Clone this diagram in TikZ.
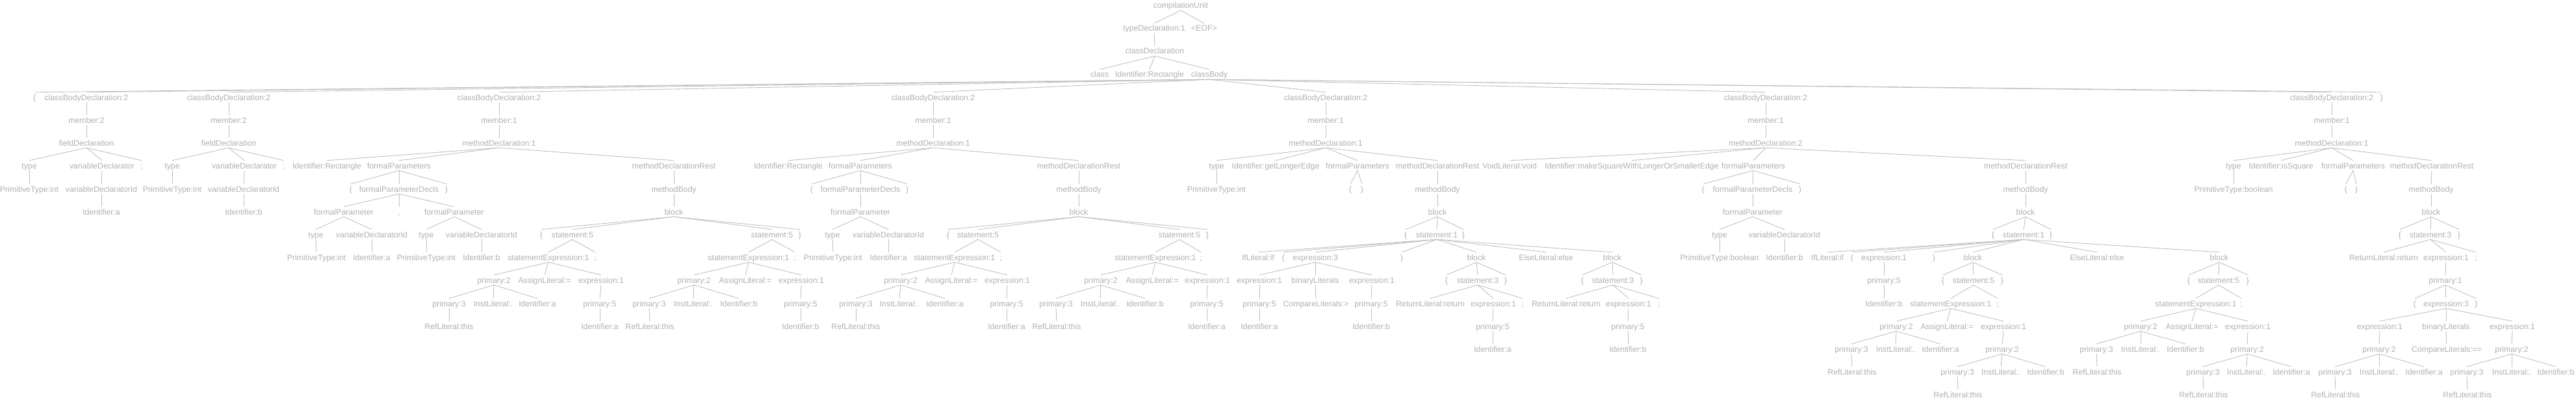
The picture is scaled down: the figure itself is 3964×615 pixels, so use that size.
\documentclass[tikz,border=0pt]{standalone}
\usepackage{fontspec}
\setmainfont{Liberation Sans}
\usepackage{tikz}
\usetikzlibrary{positioning}
\definecolor{tokgray}{RGB}{176,176,176}
\definecolor{linegray}{RGB}{192,192,192}
\newcommand{\branches}[2]
{
	\foreach \kid in {#2} {\draw[branchline] (#1.south) -- ([yshift=3pt]\kid.north);}
}

\begin{document}
\begin{tikzpicture}[x=1pt, y=-1pt,
			tok/.style={font=\fontsize{12.3}{14}\selectfont,
				text=tokgray,
				inner xsep=0.5pt, inner ysep=0pt,
				text height=9pt, text depth=3pt},
			branchline/.style={draw=linegray, line width=0.9pt}]
			\useasboundingbox (0,0) rectangle (3964,615);

			\node[tok] at (1817,10) (cu){compilationUnit};
			\node[tok] at (1776,45) (td){typeDeclaration:1};
			\node[tok] at (1853,45) (eof){<EOF>};
			\node[tok] at (1777,80) (cd){classDeclaration};
			\node[tok] at (1692,116) (kw){class};
			\node[tok] at (1769,116) (cname){Identifier:Rectangle};
			\node[tok] at (1861,116) (cb){classBody};

			\node[tok] at (53,151) (lbr){\{};
			\node[tok] at (133,151) (cbdA){classBodyDeclaration:2};
			\node[tok] at (352,151) (cbdB){classBodyDeclaration:2};
			\node[tok] at (768,151) (cbdC){classBodyDeclaration:2};
			\node[tok] at (1436,151) (cbdD){classBodyDeclaration:2};
			\node[tok] at (2040,151) (cbdE){classBodyDeclaration:2};
			\node[tok] at (2717,151) (cbdF){classBodyDeclaration:2};
			\node[tok] at (3588,151) (cbdG){classBodyDeclaration:2};
			\node[tok] at (3665,151) (rbr){\}};

			% int a;
			\node[tok] at (133,186) (memA){member:2};
			\node[tok] at (133,221) (fdA){fieldDeclaration};
			\node[tok] at (45,256) (tyA){type};
			\node[tok] at (157,256) (vdA){variableDeclarator};
			\node[tok] at (218,256) (scA){;};
			\node[tok] at (45,292) (ptA){PrimitiveType:int};
			\node[tok] at (156,292) (vidA){variableDeclaratorId};
			\node[tok] at (156,327) (idA){Identifier:a};

			% int b;
			\node[tok] at (352,186) (memB){member:2};
			\node[tok] at (352,221) (fdB){fieldDeclaration};
			\node[tok] at (265,256) (tyB){type};
			\node[tok] at (376,256) (vdB){variableDeclarator};
			\node[tok] at (437,256) (scB){;};
			\node[tok] at (265,292) (ptB){PrimitiveType:int};
			\node[tok] at (375,292) (vidB){variableDeclaratorId};
			\node[tok] at (375,327) (idB){Identifier:b};

			% Rectangle(int a, int b)
			\node[tok] at (768,186) (memC){member:1};
			\node[tok] at (768,221) (mdC){methodDeclaration:1};
			\node[tok] at (503,256) (idC){Identifier:Rectangle};
			\node[tok] at (614,256) (fpC){formalParameters};
			\node[tok] at (1037,256) (mrC){methodDeclarationRest};
			\node[tok] at (540,292) (lpC){(};
			\node[tok] at (614,292) (fpdC){formalParameterDecls};
			\node[tok] at (687,292) (rpC){)};
			\node[tok] at (529,327) (fparC1){formalParameter};
			\node[tok] at (614,327) (cmC){,};
			\node[tok] at (699,327) (fparC2){formalParameter};
			\node[tok] at (486,362) (tyC1){type};
			\node[tok] at (572,362) (vidC1){variableDeclaratorId};
			\node[tok] at (656,362) (tyC2){type};
			\node[tok] at (741,362) (vidC2){variableDeclaratorId};
			\node[tok] at (487,397) (ptC1){PrimitiveType:int};
			\node[tok] at (572,397) (idC1){Identifier:a};
			\node[tok] at (656,397) (ptC2){PrimitiveType:int};
			\node[tok] at (741,397) (idC2){Identifier:b};
			\node[tok] at (1037,292) (mbC){methodBody};
			\node[tok] at (1037,327) (blkC){block};
			\node[tok] at (833,362) (lbC){\{};
			\node[tok] at (881,362) (stC1){statement:5};
			\node[tok] at (1188,362) (stC2){statement:5};
			\node[tok] at (1231,362) (rbC){\}};
			\node[tok] at (844,397) (seC1){statementExpression:1};
			\node[tok] at (916,397) (scC1){;};
			\node[tok] at (760,432) (p2C1){primary:2};
			\node[tok] at (838,432) (asC1){AssignLiteral:=};
			\node[tok] at (925,432) (exC1){expression:1};
			\node[tok] at (691,468) (p3C1){primary:3};
			\node[tok] at (759,468) (ilC1){InstLiteral:.};
			\node[tok] at (827,468) (iaC1){Identifier:a};
			\node[tok] at (923,468) (p5C1){primary:5};
			\node[tok] at (691,503) (rlC1){RefLiteral:this};
			\node[tok] at (923,503) (ivC1){Identifier:a};
			\node[tok] at (1152,397) (seC2){statementExpression:1};
			\node[tok] at (1223,397) (scC2){;};
			\node[tok] at (1068,432) (p2C2){primary:2};
			\node[tok] at (1147,432) (asC2){AssignLiteral:=};
			\node[tok] at (1233,432) (exC2){expression:1};
			\node[tok] at (999,468) (p3C2){primary:3};
			\node[tok] at (1067,468) (ilC2){InstLiteral:.};
			\node[tok] at (1137,468) (ibC2){Identifier:b};
			\node[tok] at (1232,468) (p5C2){primary:5};
			\node[tok] at (1000,503) (rlC2){RefLiteral:this};
			\node[tok] at (1232,503) (ivC2){Identifier:b};

			% Rectangle(int a)
			\node[tok] at (1436,186) (memD){member:1};
			\node[tok] at (1436,221) (mdD){methodDeclaration:1};
			\node[tok] at (1213,256) (idD){Identifier:Rectangle};
			\node[tok] at (1324,256) (fpD){formalParameters};
			\node[tok] at (1660,256) (mrD){methodDeclarationRest};
			\node[tok] at (1249,292) (lpD){(};
			\node[tok] at (1324,292) (fpdD){formalParameterDecls};
			\node[tok] at (1396,292) (rpD){)};
			\node[tok] at (1324,327) (fparD){formalParameter};
			\node[tok] at (1281,362) (tyD){type};
			\node[tok] at (1367,362) (vidD){variableDeclaratorId};
			\node[tok] at (1282,397) (ptD){PrimitiveType:int};
			\node[tok] at (1367,397) (idDa){Identifier:a};
			\node[tok] at (1660,292) (mbD){methodBody};
			\node[tok] at (1660,327) (blkD){block};
			\node[tok] at (1459,362) (lbD){\{};
			\node[tok] at (1505,362) (stD1){statement:5};
			\node[tok] at (1815,362) (stD2){statement:5};
			\node[tok] at (1858,362) (rbD){\}};
			\node[tok] at (1469,397) (seD1){statementExpression:1};
			\node[tok] at (1540,397) (scD1){;};
			\node[tok] at (1386,432) (p2D1){primary:2};
			\node[tok] at (1464,432) (asD1){AssignLiteral:=};
			\node[tok] at (1550,432) (exD1){expression:1};
			\node[tok] at (1317,468) (p3D1){primary:3};
			\node[tok] at (1384,468) (ilD1){InstLiteral:.};
			\node[tok] at (1454,468) (iaD1){Identifier:a};
			\node[tok] at (1549,468) (p5D1){primary:5};
			\node[tok] at (1317,503) (rlD1){RefLiteral:this};
			\node[tok] at (1549,503) (ivD1){Identifier:a};
			\node[tok] at (1778,397) (seD2){statementExpression:1};
			\node[tok] at (1848,397) (scD2){;};
			\node[tok] at (1694,432) (p2D2){primary:2};
			\node[tok] at (1773,432) (asD2){AssignLiteral:=};
			\node[tok] at (1858,432) (exD2){expression:1};
			\node[tok] at (1625,468) (p3D2){primary:3};
			\node[tok] at (1693,468) (ilD2){InstLiteral:.};
			\node[tok] at (1762,468) (ibD2){Identifier:b};
			\node[tok] at (1857,468) (p5D2){primary:5};
			\node[tok] at (1626,503) (rlD2){RefLiteral:this};
			\node[tok] at (1857,503) (ivD2){Identifier:a};

			% getLongerEdge()
			\node[tok] at (2040,186) (memE){member:1};
			\node[tok] at (2040,221) (mdE){methodDeclaration:1};
			\node[tok] at (1872,256) (tyE){type};
			\node[tok] at (1963,256) (idE){Identifier:getLongerEdge};
			\node[tok] at (2089,256) (fpE){formalParameters};
			\node[tok] at (2212,256) (mrE){methodDeclarationRest};
			\node[tok] at (1872,292) (ptE){PrimitiveType:int};
			\node[tok] at (2078,292) (lpE){(};
			\node[tok] at (2096,292) (rpE){)};
			\node[tok] at (2212,292) (mbE){methodBody};
			\node[tok] at (2212,327) (blkE){block};
			\node[tok] at (2163,362) (lbE){\{};
			\node[tok] at (2211,362) (stE){statement:1};
			\node[tok] at (2252,362) (rbE){\}};
			\node[tok] at (1936,397) (ifE){IfLiteral:if};
			\node[tok] at (1975,397) (lpE2){(};
			\node[tok] at (2024,397) (ex3E){expression:3};
			\node[tok] at (2157,397) (rpE2){)};
			\node[tok] at (2272,397) (bkE1){block};
			\node[tok] at (2379,397) (elE){ElseLiteral:else};
			\node[tok] at (2481,397) (bkE2){block};
			\node[tok] at (1938,432) (ex1E1){expression:1};
			\node[tok] at (2024,432) (blE){binaryLiterals};
			\node[tok] at (2111,432) (ex1E2){expression:1};
			\node[tok] at (1938,468) (p5E1){primary:5};
			\node[tok] at (2025,468) (clE){CompareLiterals:>};
			\node[tok] at (2110,468) (p5E2){primary:5};
			\node[tok] at (1938,503) (iaE){Identifier:a};
			\node[tok] at (2110,503) (ibE){Identifier:b};
			\node[tok] at (2226,432) (lbE1){\{};
			\node[tok] at (2274,432) (s3E1){statement:3};
			\node[tok] at (2317,432) (rbE1){\}};
			\node[tok] at (2201,468) (reE1){ReturnLiteral:return};
			\node[tok] at (2298,468) (exE1){expression:1};
			\node[tok] at (2343,468) (scE1){;};
			\node[tok] at (2297,503) (p5E3){primary:5};
			\node[tok] at (2297,538) (iaE3){Identifier:a};
			\node[tok] at (2435,432) (lbE2){\{};
			\node[tok] at (2482,432) (s3E2){statement:3};
			\node[tok] at (2526,432) (rbE2){\}};
			\node[tok] at (2410,468) (reE2){ReturnLiteral:return};
			\node[tok] at (2506,468) (exE2){expression:1};
			\node[tok] at (2553,468) (scE2){;};
			\node[tok] at (2505,503) (p5E4){primary:5};
			\node[tok] at (2505,538) (ibE4){Identifier:b};

			% makeSquareWithLongerOrSmallerEdge(boolean b)
			\node[tok] at (2717,186) (memF){member:1};
			\node[tok] at (2717,221) (mdF){methodDeclaration:2};
			\node[tok] at (2323,256) (vlF){VoidLiteral:void};
			\node[tok] at (2511,256) (idF){Identifier:makeSquareWithLongerOrSmallerEdge};
			\node[tok] at (2698,256) (fpF){formalParameters};
			\node[tok] at (3117,256) (mrF){methodDeclarationRest};
			\node[tok] at (2621,292) (lpF){(};
			\node[tok] at (2697,292) (fpdF){formalParameterDecls};
			\node[tok] at (2770,292) (rpF){)};
			\node[tok] at (2697,327) (fparF){formalParameter};
			\node[tok] at (2646,362) (tyF){type};
			\node[tok] at (2746,362) (vidF){variableDeclaratorId};
			\node[tok] at (2646,397) (ptF){PrimitiveType:boolean};
			\node[tok] at (2746,397) (idFb){Identifier:b};
			\node[tok] at (3117,292) (mbF){methodBody};
			\node[tok] at (3117,327) (blkF){block};
			\node[tok] at (3067,362) (lbF){\{};
			\node[tok] at (3114,362) (stF){statement:1};
			\node[tok] at (3156,362) (rbF){\}};
			\node[tok] at (2812,397) (ifF){IfLiteral:if};
			\node[tok] at (2850,397) (lpF2){(};
			\node[tok] at (2899,397) (exF){expression:1};
			\node[tok] at (2976,397) (rpF2){)};
			\node[tok] at (3036,397) (bkF1){block};
			\node[tok] at (3227,397) (elF){ElseLiteral:else};
			\node[tok] at (3415,397) (bkF2){block};
			\node[tok] at (2899,432) (p5F){primary:5};
			\node[tok] at (2899,468) (ibF){Identifier:b};
			\node[tok] at (2990,432) (lbF1){\{};
			\node[tok] at (3037,432) (s5F1){statement:5};
			\node[tok] at (3081,432) (rbF1){\}};
			\node[tok] at (3002,468) (seF1){statementExpression:1};
			\node[tok] at (3074,468) (scF1){;};
			\node[tok] at (2918,503) (p2F1){primary:2};
			\node[tok] at (2996,503) (asF1){AssignLiteral:=};
			\node[tok] at (3083,503) (exF1){expression:1};
			\node[tok] at (2849,538) (p3F1){primary:3};
			\node[tok] at (2917,538) (ilF1){InstLiteral:.};
			\node[tok] at (2986,538) (iaF1){Identifier:a};
			\node[tok] at (2850,573) (rlF1){RefLiteral:this};
			\node[tok] at (3081,538) (q2F1){primary:2};
			\node[tok] at (3012,573) (q3F1){primary:3};
			\node[tok] at (3079,573) (jlF1){InstLiteral:.};
			\node[tok] at (3148,573) (ibF1){Identifier:b};
			\node[tok] at (3013,608) (slF1){RefLiteral:this};
			\node[tok] at (3368,432) (lbF2){\{};
			\node[tok] at (3414,432) (s5F2){statement:5};
			\node[tok] at (3459,432) (rbF2){\}};
			\node[tok] at (3379,468) (seF2){statementExpression:1};
			\node[tok] at (3449,468) (scF2){;};
			\node[tok] at (3294,503) (p2F2){primary:2};
			\node[tok] at (3373,503) (asF2){AssignLiteral:=};
			\node[tok] at (3459,503) (exF2){expression:1};
			\node[tok] at (3226,538) (p3F2){primary:3};
			\node[tok] at (3294,538) (ilF2){InstLiteral:.};
			\node[tok] at (3363,538) (ibF2){Identifier:b};
			\node[tok] at (3227,573) (rlF2){RefLiteral:this};
			\node[tok] at (3458,538) (q2F2){primary:2};
			\node[tok] at (3390,573) (q3F2){primary:3};
			\node[tok] at (3457,573) (jlF2){InstLiteral:.};
			\node[tok] at (3526,573) (iaF2){Identifier:a};
			\node[tok] at (3391,608) (slF2){RefLiteral:this};

			% isSquare()
			\node[tok] at (3588,186) (memG){member:1};
			\node[tok] at (3588,221) (mdG){methodDeclaration:1};
			\node[tok] at (3437,256) (tyG){type};
			\node[tok] at (3510,256) (idG){Identifier:isSquare};
			\node[tok] at (3621,256) (fpG){formalParameters};
			\node[tok] at (3742,256) (mrG){methodDeclarationRest};
			\node[tok] at (3437,292) (ptG){PrimitiveType:boolean};
			\node[tok] at (3610,292) (lpG){(};
			\node[tok] at (3626,292) (rpG){)};
			\node[tok] at (3741,292) (mbG){methodBody};
			\node[tok] at (3741,327) (blkG){block};
			\node[tok] at (3693,362) (lbG){\{};
			\node[tok] at (3740,362) (s3G){statement:3};
			\node[tok] at (3784,362) (rbG){\}};
			\node[tok] at (3668,397) (reG){ReturnLiteral:return};
			\node[tok] at (3764,397) (exG){expression:1};
			\node[tok] at (3810,397) (scG){;};
			\node[tok] at (3763,432) (p1G){primary:1};
			\node[tok] at (3716,468) (lpG2){(};
			\node[tok] at (3764,468) (ex3G){expression:3};
			\node[tok] at (3810,468) (rpG2){)};
			\node[tok] at (3662,503) (exG1){expression:1};
			\node[tok] at (3764,503) (blG){binaryLiterals};
			\node[tok] at (3866,503) (exG2){expression:1};
			\node[tok] at (3661,538) (p2G1){primary:2};
			\node[tok] at (3765,538) (clG){CompareLiterals:==};
			\node[tok] at (3865,538) (p2G2){primary:2};
			\node[tok] at (3593,573) (p3G1){primary:3};
			\node[tok] at (3661,573) (ilG1){InstLiteral:.};
			\node[tok] at (3730,573) (iaG1){Identifier:a};
			\node[tok] at (3796,573) (p3G2){primary:3};
			\node[tok] at (3865,573) (ilG2){InstLiteral:.};
			\node[tok] at (3933,573) (ibG2){Identifier:b};
			\node[tok] at (3594,608) (rlG1){RefLiteral:this};
			\node[tok] at (3797,608) (rlG2){RefLiteral:this};

			\branches{cu}{td,eof};
			\branches{td}{cd};
			\branches{cd}{kw,cname,cb};
			\branches{cb}{lbr,cbdA,cbdB,cbdC,cbdD,cbdE,cbdF,cbdG,rbr};

			\branches{cbdA}{memA}; \branches{memA}{fdA};
			\branches{fdA}{tyA,vdA,scA};
			\branches{tyA}{ptA}; \branches{vdA}{vidA}; \branches{vidA}{idA};

			\branches{cbdB}{memB}; \branches{memB}{fdB};
			\branches{fdB}{tyB,vdB,scB};
			\branches{tyB}{ptB}; \branches{vdB}{vidB}; \branches{vidB}{idB};

			\branches{cbdC}{memC}; \branches{memC}{mdC};
			\branches{mdC}{idC,fpC,mrC};
			\branches{fpC}{lpC,fpdC,rpC};
			\branches{fpdC}{fparC1,cmC,fparC2};
			\branches{fparC1}{tyC1,vidC1}; \branches{fparC2}{tyC2,vidC2};
			\branches{tyC1}{ptC1}; \branches{vidC1}{idC1};
			\branches{tyC2}{ptC2}; \branches{vidC2}{idC2};
			\branches{mrC}{mbC}; \branches{mbC}{blkC};
			\branches{blkC}{lbC,stC1,stC2,rbC};
			\branches{stC1}{seC1,scC1}; \branches{seC1}{p2C1,asC1,exC1};
			\branches{p2C1}{p3C1,ilC1,iaC1}; \branches{p3C1}{rlC1};
			\branches{exC1}{p5C1}; \branches{p5C1}{ivC1};
			\branches{stC2}{seC2,scC2}; \branches{seC2}{p2C2,asC2,exC2};
			\branches{p2C2}{p3C2,ilC2,ibC2}; \branches{p3C2}{rlC2};
			\branches{exC2}{p5C2}; \branches{p5C2}{ivC2};

			\branches{cbdD}{memD}; \branches{memD}{mdD};
			\branches{mdD}{idD,fpD,mrD};
			\branches{fpD}{lpD,fpdD,rpD}; \branches{fpdD}{fparD};
			\branches{fparD}{tyD,vidD};
			\branches{tyD}{ptD}; \branches{vidD}{idDa};
			\branches{mrD}{mbD}; \branches{mbD}{blkD};
			\branches{blkD}{lbD,stD1,stD2,rbD};
			\branches{stD1}{seD1,scD1}; \branches{seD1}{p2D1,asD1,exD1};
			\branches{p2D1}{p3D1,ilD1,iaD1}; \branches{p3D1}{rlD1};
			\branches{exD1}{p5D1}; \branches{p5D1}{ivD1};
			\branches{stD2}{seD2,scD2}; \branches{seD2}{p2D2,asD2,exD2};
			\branches{p2D2}{p3D2,ilD2,ibD2}; \branches{p3D2}{rlD2};
			\branches{exD2}{p5D2}; \branches{p5D2}{ivD2};

			\branches{cbdE}{memE}; \branches{memE}{mdE};
			\branches{mdE}{tyE,idE,fpE,mrE};
			\branches{tyE}{ptE}; \branches{fpE}{lpE,rpE};
			\branches{mrE}{mbE}; \branches{mbE}{blkE};
			\branches{blkE}{lbE,stE,rbE};
			\branches{stE}{ifE,lpE2,ex3E,rpE2,bkE1,elE,bkE2};
			\branches{ex3E}{ex1E1,blE,ex1E2};
			\branches{ex1E1}{p5E1}; \branches{p5E1}{iaE};
			\branches{blE}{clE};
			\branches{ex1E2}{p5E2}; \branches{p5E2}{ibE};
			\branches{bkE1}{lbE1,s3E1,rbE1}; \branches{s3E1}{reE1,exE1,scE1};
			\branches{exE1}{p5E3}; \branches{p5E3}{iaE3};
			\branches{bkE2}{lbE2,s3E2,rbE2}; \branches{s3E2}{reE2,exE2,scE2};
			\branches{exE2}{p5E4}; \branches{p5E4}{ibE4};

			\branches{cbdF}{memF}; \branches{memF}{mdF};
			\branches{mdF}{vlF,idF,fpF,mrF};
			\branches{fpF}{lpF,fpdF,rpF}; \branches{fpdF}{fparF};
			\branches{fparF}{tyF,vidF};
			\branches{tyF}{ptF}; \branches{vidF}{idFb};
			\branches{mrF}{mbF}; \branches{mbF}{blkF};
			\branches{blkF}{lbF,stF,rbF};
			\branches{stF}{ifF,lpF2,exF,rpF2,bkF1,elF,bkF2};
			\branches{exF}{p5F}; \branches{p5F}{ibF};
			\branches{bkF1}{lbF1,s5F1,rbF1}; \branches{s5F1}{seF1,scF1};
			\branches{seF1}{p2F1,asF1,exF1};
			\branches{p2F1}{p3F1,ilF1,iaF1}; \branches{p3F1}{rlF1};
			\branches{exF1}{q2F1}; \branches{q2F1}{q3F1,jlF1,ibF1}; \branches{q3F1}{slF1};
			\branches{bkF2}{lbF2,s5F2,rbF2}; \branches{s5F2}{seF2,scF2};
			\branches{seF2}{p2F2,asF2,exF2};
			\branches{p2F2}{p3F2,ilF2,ibF2}; \branches{p3F2}{rlF2};
			\branches{exF2}{q2F2}; \branches{q2F2}{q3F2,jlF2,iaF2}; \branches{q3F2}{slF2};

			\branches{cbdG}{memG}; \branches{memG}{mdG};
			\branches{mdG}{tyG,idG,fpG,mrG};
			\branches{tyG}{ptG}; \branches{fpG}{lpG,rpG};
			\branches{mrG}{mbG}; \branches{mbG}{blkG};
			\branches{blkG}{lbG,s3G,rbG};
			\branches{s3G}{reG,exG,scG};
			\branches{exG}{p1G}; \branches{p1G}{lpG2,ex3G,rpG2};
			\branches{ex3G}{exG1,blG,exG2};
			\branches{exG1}{p2G1}; \branches{p2G1}{p3G1,ilG1,iaG1}; \branches{p3G1}{rlG1};
			\branches{blG}{clG};
			\branches{exG2}{p2G2}; \branches{p2G2}{p3G2,ilG2,ibG2}; \branches{p3G2}{rlG2};
		\end{tikzpicture}
\end{document}
